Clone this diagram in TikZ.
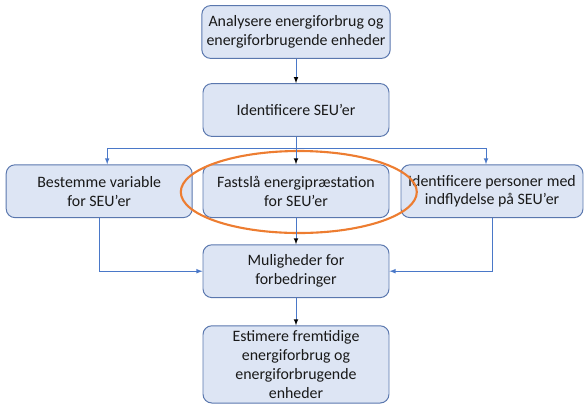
\documentclass[tikz,border=0pt]{standalone}
\usepackage{fontspec}
\setmainfont{Carlito}
\usepackage{tikz}
\usetikzlibrary{positioning,shapes.geometric}

\definecolor{boxfill}{HTML}{DDE5F4}
\definecolor{boxline}{HTML}{5A77AE}
\definecolor{flowblue}{HTML}{4A78C8}
\definecolor{ringorange}{HTML}{ED7D31}

\tikzset{
  stage/.style={draw=boxline, fill=boxfill, rounded corners=0.22cm, line width=0.7pt,
                align=center, minimum width=4.65cm, minimum height=1.32cm,
                text=black!90, font=\fontsize{11.3}{13.4}\selectfont},
  flow/.style={draw=flowblue, line width=0.5pt, ->, >=latex},
  ring/.style={draw=ringorange, ellipse, line width=1.5pt, minimum width=5.9cm, minimum height=2.05cm}
}

\begin{document}
\begin{tikzpicture}[node distance=2cm,on grid]
   \useasboundingbox (0,0) rectangle (14.6,-10.175);

   \node[stage] (analyse) at (7.4,-0.8) {Analysere energiforbrug og\\energiforbrugende enheder};
   \node[stage] (ident) [below=1.95cm of analyse] {Identificere SEU’er};
   \node[stage] (fastsla) [below=2.03cm of ident] {Fastslå energipræstation\\for SEU’er};
   \node[stage] (bestem) [left=4.92cm of fastsla] {Bestemme variable\\for SEU’er};
   \node[stage, minimum width=4.55cm] (personer) [right=4.9cm of fastsla] {Identificere personer med\\indflydelse på SEU’er};
   \node[stage] (mulig) [below=2.0cm of fastsla] {Muligheder for\\forbedringer};
   \node[stage, minimum height=1.93cm] (estimer) [below=2.33cm of mulig] {Estimere fremtidige\\energiforbrug og\\energiforbrugende\\enheder};
   \node[ring] (fokus) at ([xshift=0.07cm,yshift=-0.02cm]fastsla.center) {};

   \coordinate[below=0.95cm of ident] (split);

   \path[flow]
    (analyse) edge (ident)
    (ident) edge (fastsla)
    (fastsla) edge (mulig)
    (mulig) edge (estimer);
   \draw[flow] (split) -| ([xshift=0.2cm]bestem.north);
   \draw[flow] (split) -| ([xshift=-0.15cm]personer.north);
   \draw[flow] (bestem.south) |- (mulig.west);
   \draw[flow] (personer.south) |- (mulig.east);
\end{tikzpicture}
\end{document}
